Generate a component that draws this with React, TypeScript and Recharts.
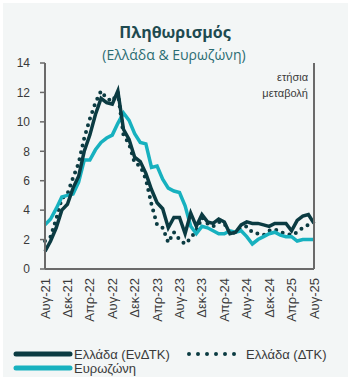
import React from "react";
import { LineChart, Line, XAxis, YAxis } from "recharts";

// μήνες Αυγ-21 .. Αυγ-25
const monthNames = ["Ιαν", "Φεβ", "Μαρ", "Απρ", "Μαϊ", "Ιουν", "Ιουλ", "Αυγ", "Σεπ", "Οκτ", "Νοε", "Δεκ"];
const months: string[] = [];
for (let y = 21; y <= 25; y++) {
  for (let m = 0; m < 12; m++) {
    if ((y === 21 && m < 7) || (y === 25 && m > 7)) continue;
    months.push(`${monthNames[m]}-${y}`);
  }
}

const greeceHicp = [
  1.2, 1.9, 2.8, 4.0, 4.4,
  5.5, 6.3, 8.0, 9.1, 10.5, 11.6, 11.3, 11.2, 12.1, 9.5, 8.8, 7.6,
  7.3, 6.5, 5.4, 4.5, 4.1, 2.8, 3.5, 3.5, 2.4, 3.8, 2.9, 3.7,
  3.2, 3.1, 3.4, 3.2, 2.4, 2.5, 3.0, 3.2, 3.1, 3.1, 3.0, 2.9,
  3.1, 3.1, 3.1, 2.6, 3.3, 3.6, 3.7, 3.1,
];

const greeceCpi = [
  1.9, 2.2, 3.4, 4.8, 5.1,
  6.2, 7.2, 8.9, 10.2, 11.3, 12.1, 11.6, 11.4, 12.0, 9.1, 8.5, 7.2,
  7.0, 6.1, 4.4, 3.0, 2.8, 1.8, 2.5, 2.0, 1.7, 2.1, 2.6, 3.5,
  3.1, 2.9, 3.2, 3.1, 2.4, 2.5, 2.8, 2.9, 2.5, 2.4, 2.3, 2.6,
  2.7, 2.5, 2.4, 2.3, 2.5, 2.8, 3.0, 2.9,
];

const eurozone = [
  3.0, 3.4, 4.1, 4.9, 5.0,
  5.1, 5.9, 7.4, 7.4, 8.1, 8.6, 8.9, 9.1, 9.9, 10.6, 10.1, 9.2,
  8.6, 8.5, 6.9, 7.0, 6.1, 5.5, 5.3, 5.2, 4.3, 2.9, 2.4, 2.9,
  2.8, 2.6, 2.4, 2.4, 2.6, 2.5, 2.6, 2.2, 1.7, 2.0, 2.2, 2.4,
  2.5, 2.3, 2.2, 2.2, 1.9, 2.0, 2.0, 2.0,
];

const yTicks = [0, 2, 4, 6, 8, 10, 12, 14];

const data = months.map((m, i) => ({
  m,
  hicp: greeceHicp[i],
  cpi: greeceCpi[i],
  ez: eurozone[i],
}));

const DARK = "#0b3b42";
const CYAN = "#17b1bf";
const AXIS = "#6a6a6a";
const TXT = "#3a3a3a";
const FONT = "'Liberation Sans', Arial, sans-serif";

const MonthTick = (props: any) => {
  const { x, y, payload } = props;
  return (
    <text
      x={x}
      y={y}
      transform={`rotate(-90 ${x} ${y})`}
      textAnchor="end"
      dy="0.35em"
      fontSize={13}
      fill={TXT}
      fontFamily={FONT}
    >
      {payload.value}
    </text>
  );
};

const App: React.FC = () => {
  return (
    <div style={{ position: "absolute", left: 0, top: 0, width: 356, height: 385, background: "#fff" }}>
      <div
        style={{
          position: "absolute",
          left: 3,
          top: 3,
          width: 345,
          height: 374,
          background: "#f3f6f6",
        }}
      />
      <div
        style={{
          position: "absolute",
          left: 0,
          width: 350,
          top: 22,
          textAlign: "center",
          fontFamily: "'Open Sans', sans-serif",
          fontWeight: 700,
          fontSize: 16,
          color: "#1e4a50",
          lineHeight: "20px",
        }}
      >
        Πληθωρισμός
      </div>
      <div
        style={{
          position: "absolute",
          left: 0,
          width: 348,
          top: 45,
          textAlign: "center",
          fontFamily: "'Open Sans', sans-serif",
          fontSize: 14,
          color: "#2b6c72",
          lineHeight: "20px",
        }}
      >
        (Ελλάδα &amp; Ευρωζώνη)
      </div>
      <div
        style={{
          position: "absolute",
          right: 356 - 308,
          top: 69,
          textAlign: "right",
          fontFamily: FONT,
          fontSize: 11,
          color: TXT,
          lineHeight: "16px",
        }}
      >
        ετήσια
        <br />
        μεταβολή
      </div>

      <div style={{ position: "absolute", left: 0, top: 0 }}>
        <LineChart
          width={356}
          height={385}
          data={data}
          margin={{ top: 63, right: 0, bottom: 56, left: 0 }}
          style={{ background: "transparent" }}
        >
          <XAxis
            dataKey="m"
            interval={3}
            tick={<MonthTick />}
            tickLine={false}
            tickSize={0}
            tickMargin={9}
            axisLine={{ stroke: AXIS, strokeWidth: 2 }}
            height={60}
          />
          <YAxis
            yAxisId="left"
            domain={[0, 14]}
            ticks={yTicks}
            width={45}
            tick={{ fill: TXT, fontSize: 12, fontFamily: FONT }}
            tickSize={5}
            tickMargin={10}
            axisLine={{ stroke: AXIS, strokeWidth: 2 }}
            tickLine={{ stroke: AXIS, strokeWidth: 1.5 }}
          />
          <YAxis
            yAxisId="right"
            orientation="right"
            domain={[0, 14]}
            ticks={yTicks}
            width={42}
            tick={{ fill: TXT, fontSize: 12, fontFamily: FONT }}
            tickSize={5}
            tickMargin={9}
            axisLine={{ stroke: AXIS, strokeWidth: 2 }}
            tickLine={{ stroke: AXIS, strokeWidth: 1.5 }}
          />
          <Line
            yAxisId="left"
            dataKey="cpi"
            stroke={DARK}
            strokeWidth={4}
            strokeDasharray="0 7"
            strokeLinecap="round"
            dot={false}
            type="linear"
            isAnimationActive={false}
          />
          <Line
            yAxisId="left"
            dataKey="ez"
            stroke={CYAN}
            strokeWidth={3.5}
            dot={false}
            type="linear"
            isAnimationActive={false}
          />
          <Line
            yAxisId="left"
            dataKey="hicp"
            stroke={DARK}
            strokeWidth={3.5}
            dot={false}
            type="linear"
            isAnimationActive={false}
          />
        </LineChart>
      </div>

      {/* υπόμνημα */}
      <svg
        width={356}
        height={40}
        style={{ position: "absolute", left: 0, top: 340 }}
        fontFamily={FONT}
        fontSize={13}
      >
        <line x1={16} y1={14} x2={70} y2={14} stroke={DARK} strokeWidth={5} strokeLinecap="round" />
        <text x={74} y={14} dy="0.35em" fill={TXT}>Ελλάδα (ΕνΔΤΚ)</text>
        <line x1={189} y1={14} x2={241} y2={14} stroke={DARK} strokeWidth={4} strokeDasharray="0 9" strokeLinecap="round" />
        <text x={246} y={14} dy="0.35em" fill={TXT}>Ελλάδα (ΔΤΚ)</text>
        <line x1={16} y1={28} x2={70} y2={28} stroke={CYAN} strokeWidth={5} strokeLinecap="round" />
        <text x={74} y={28} dy="0.35em" fill={TXT}>Ευρωζώνη</text>
      </svg>
    </div>
  );
};

export default App;
